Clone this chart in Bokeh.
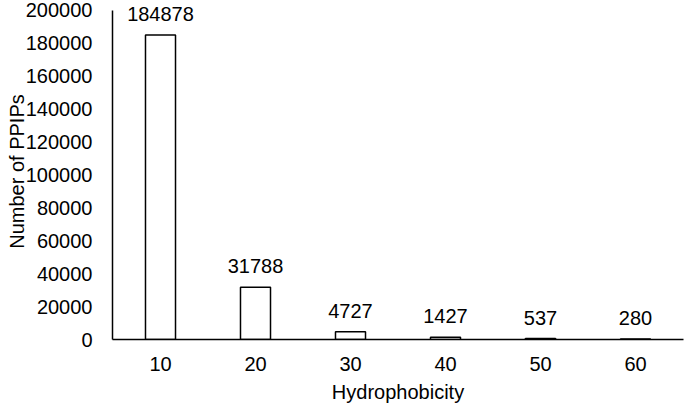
from bokeh.plotting import figure
from bokeh.models import ColumnDataSource, FixedTicker, Range1d, LabelSet
from bokeh.core.properties import value
from bokeh.embed import file_html
from bokeh.resources import INLINE

hydrophobicity = [10, 20, 30, 40, 50, 60]
counts = [184878, 31788, 4727, 1427, 537, 280]
count_labels = [str(c) for c in counts]
y_ticks = [0, 20000, 40000, 60000, 80000, 100000, 120000, 140000, 160000, 180000, 200000]
y_axis_max = 200000

src = ColumnDataSource(dict(x=hydrophobicity, top=counts, lab=count_labels))

FONT = "Liberation Sans"
FS = "20px"

# frame spans x 112..683 (571 px); category spacing 95 px, first centre at 160
px_per_unit = 9.5
x_start = 10 - 48 / px_per_unit
x_end = x_start + 571 / px_per_unit

p = figure(width=685, height=405, output_backend="svg", toolbar_location=None,
           x_range=Range1d(x_start, x_end), y_range=Range1d(0, 204000),
           min_border_left=112, min_border_right=2, min_border_top=3, min_border_bottom=66)
p.outline_line_color = None
p.grid.visible = False
p.background_fill_color = "white"
p.border_fill_color = "white"

p.vbar(x="x", top="top", width=3.16, bottom=0, source=src,
       fill_color="white", line_color="black", line_width=1.5)

labels = LabelSet(x="x", y="top", text="lab", source=src, text_align="center",
                  text_baseline="alphabetic", y_offset=14, text_font=value(FONT),
                  text_font_size=value(FS), text_color="black")
p.add_layout(labels)

for ax in (p.xaxis[0], p.yaxis[0]):
    ax.axis_line_color = "black"
    ax.axis_line_width = 1.5
    ax.major_tick_line_color = None
    ax.minor_tick_line_color = None
    ax.major_tick_out = 0
    ax.major_tick_in = 0
    ax.minor_tick_out = 0
    ax.major_label_text_font = FONT
    ax.major_label_text_font_size = FS
    ax.major_label_text_color = "black"
    ax.axis_label_text_font = FONT
    ax.axis_label_text_font_size = FS
    ax.axis_label_text_font_style = "normal"
    ax.axis_label_text_color = "black"

p.xaxis.ticker = FixedTicker(ticks=hydrophobicity)
p.xaxis.axis_label = "Hydrophobicity"
p.xaxis.major_label_standoff = 17
p.xaxis.axis_label_standoff = 7

p.yaxis.ticker = FixedTicker(ticks=y_ticks)
p.yaxis.bounds = (0, y_axis_max)
p.yaxis.formatter.use_scientific = False
p.yaxis.axis_label = "Number of PPIPs"
p.yaxis.major_label_standoff = 20
p.yaxis.axis_label_standoff = -5

open("out.html", "w").write(file_html(p, INLINE))
